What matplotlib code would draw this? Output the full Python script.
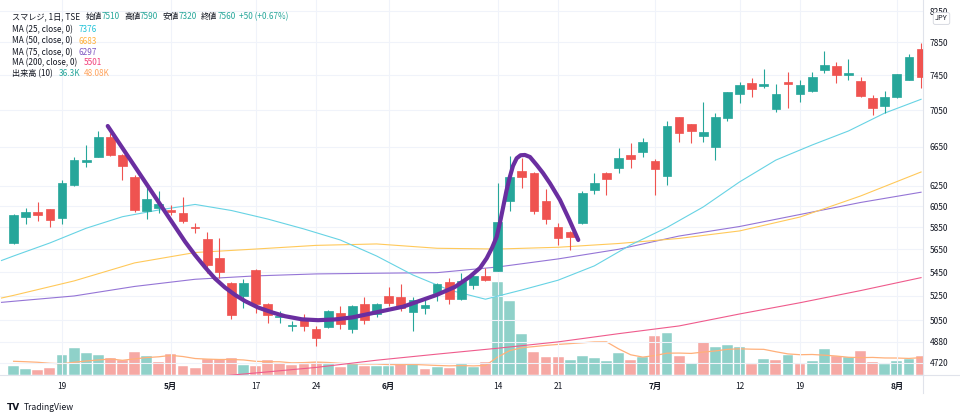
import numpy as np
import pandas as pd
import matplotlib
matplotlib.use('Agg')
import matplotlib.pyplot as plt
from matplotlib.lines import Line2D

plt.rcParams['font.family'] = ['Noto Sans CJK JP', 'DejaVu Sans']

# daily bars 2021-04-13 .. 2021-08-04 (trading days only)
opens = [5710, 5950, 5995, 6020, 5940, 6260, 6495, 6545, 6757, 6565,
         6340, 6005, 6030, 6010, 5990, 5850, 5740, 5570, 5360, 5245,
         5470, 5180, 5072, 5000, 5065, 4975, 4998, 5105, 4978, 5178,
         5095, 5250, 5240, 5118, 5150, 5270, 5368, 5220, 5340, 5420,
         5460, 6100, 6400, 6375, 6100, 5852, 5810, 5890, 6210, 6382,
         6427, 6565, 6598, 6500, 6348, 6970, 6890, 6765, 6650, 6965,
         7230, 7355, 7325, 7060, 7365, 7228, 7270, 7512, 7560, 7450,
         7388, 7190, 7095, 7195, 7396, 7765]
highs = [5975, 6030, 6090, 6025, 6310, 6540, 6670, 6820, 6800, 6575,
         6360, 6250, 6200, 6065, 6140, 5890, 5810, 5750, 5365, 5390,
         5475, 5185, 5125, 5045, 5100, 5000, 5135, 5165, 5170, 5235,
         5185, 5325, 5345, 5240, 5228, 5352, 5400, 5445, 5422, 5485,
         6280, 6555, 6530, 6385, 6215, 5890, 5815, 6200, 6380, 6390,
         6635, 6690, 6740, 6520, 6930, 6975, 6895, 7145, 7015, 7255,
         7375, 7415, 7530, 7345, 7490, 7390, 7490, 7745, 7612, 7645,
         7430, 7220, 7265, 7465, 7705, 7840]
lows = [5700, 5880, 5915, 5850, 5880, 6250, 6435, 6540, 6555, 6310,
        6000, 5930, 5985, 5965, 5895, 5795, 5440, 5395, 5055, 5150,
        5110, 5025, 5030, 4960, 4965, 4850, 4990, 4975, 4950, 5020,
        5075, 5160, 5125, 4960, 5097, 5208, 5178, 5215, 5303, 5370,
        5455, 6005, 6230, 5975, 5880, 5690, 5640, 5885, 6170, 6160,
        6382, 6433, 6546, 6160, 6260, 6705, 6687, 6705, 6510, 6925,
        7125, 7200, 7300, 7030, 7070, 7135, 7260, 7475, 7355, 7395,
        7200, 6995, 7015, 7190, 7390, 7300]
closes = [5968, 5995, 5970, 5920, 6275, 6510, 6515, 6757, 6565, 6445,
          6010, 6120, 6075, 5993, 5915, 5845, 5510, 5450, 5090, 5360,
          5180, 5090, 5080, 5008, 5005, 4910, 5125, 5020, 5168, 5050,
          5180, 5185, 5150, 5215, 5172, 5348, 5222, 5375, 5420, 5378,
          5900, 6335, 6340, 6005, 5930, 5750, 5760, 6178, 6281, 6320,
          6530, 6520, 6705, 6420, 6873, 6795, 6822, 6812, 6970, 7250,
          7335, 7285, 7345, 7228, 7345, 7335, 7425, 7572, 7450, 7474,
          7212, 7070, 7200, 7460, 7665, 7435]
# volume, thousand shares
volumes = [24.4, 16.0, 14.0, 19.6, 56.8, 75.6, 61.6, 55.2, 46.8, 42.0,
           63.6, 53.2, 35.6, 58.8, 24.4, 20.4, 44.8, 44.8, 47.6, 28.0,
           26.0, 42.0, 33.6, 28.8, 31.6, 36.4, 31.6, 21.6, 32.8, 24.4,
           26.0, 24.4, 33.6, 33.6, 17.6, 21.6, 20.4, 30.0, 23.2, 36.4,
           259.6, 206.4, 114.8, 65.2, 51.2, 49.6, 42.8, 53.2, 46.8, 39.2,
           62.4, 41.2, 49.6, 108.4, 117.6, 53.2, 32.8, 91.6, 77.6, 84.0,
           77.6, 30.8, 44.8, 41.2, 56.8, 30.8, 39.2, 72.0, 54.0, 49.6,
           67.2, 36.4, 30.0, 39.2, 45.6, 52.4]
# volume MA(10) for the first bars (needs earlier data)
vol_ma_head = [38.4, 37.2, 35.6, 32.8, 31.6, 35.6, 39.2, 42.0, 44.8]

# moving averages (bar index, value)
ma25_bars = [-1, 0, 3, 6, 9, 12, 15, 18, 21, 24, 27, 30, 33, 36, 39, 42, 45,
             48, 51, 54, 57, 60, 63, 66, 69, 72, 75]
ma25 = [5551, 5591, 5708, 5843, 5951, 6015, 6068, 6010, 5929, 5836, 5735,
        5591, 5425, 5297, 5220, 5297, 5380, 5504, 5690, 5850, 6044, 6289,
        6511, 6669, 6819, 7016, 7171]
ma_bars = [-1, 0, 5, 10, 15, 20, 25, 30, 35, 40, 45, 50, 55, 60, 65, 70, 75]
ma50 = [5230, 5252, 5374, 5530, 5622, 5653, 5686, 5699, 5660, 5653, 5669,
        5703, 5749, 5818, 5948, 6150, 6389]
ma75 = [5194, 5203, 5247, 5327, 5388, 5417, 5434, 5440, 5445, 5494, 5565,
        5651, 5771, 5859, 5972, 6087, 6187]
ma200_bars = [10, 15, 20, 25, 30, 35, 40, 45, 50, 55, 60, 65, 70, 75]
ma200 = [4562, 4604, 4643, 4684, 4738, 4784, 4829, 4878, 4942, 5003, 5099,
         5191, 5292, 5402]

# hand drawn cup shape (bar index, price)
cup_bars = [7.78, 14.17, 14.99, 15.82, 16.64, 17.47, 18.30, 19.12, 20.20,
            21.36, 22.43, 23.83, 25.16, 26.56, 27.97, 29.87, 32.21, 34.97,
            36.48, 37.72, 38.55, 39.10, 39.54, 39.93, 40.21, 40.47, 40.73,
            41.02, 41.27, 41.58, 41.90, 42.26, 42.68, 43.23, 43.75, 44.33,
            45.16, 45.90, 46.67]
cup_prices = [6873, 5720, 5600, 5492, 5395, 5318, 5256, 5205, 5152,
              5112, 5081, 5056, 5049, 5055, 5071, 5110, 5159, 5256,
              5323, 5411, 5486, 5571, 5663, 5765, 5902, 6047, 6199,
              6341, 6450, 6530, 6561, 6564, 6543, 6461, 6379, 6275,
              6111, 5929, 5735]

price_ticks = [4720, 4880, 5050, 5250, 5450, 5650, 5850, 6050, 6250, 6650,
               7050, 7450, 7850, 8250]
date_pos = [4, 13, 20, 25, 31, 40, 45, 53, 60, 65, 73]
date_labels = ['19', '5月', '17', '24', '6月', '14', '21', '7月', '12', '19', '8月']

UP = '#26a69a'
DOWN = '#ef5350'
TXT = '#131722'

W, H = 960, 418
fig = plt.figure(figsize=(W / 100, H / 100), dpi=100)
fig.patch.set_facecolor('white')
rect = [0, 1 - 375 / H, 922.5 / W, 375 / H]

idx = np.arange(len(closes))
o = np.array(opens)
c = np.array(closes)

# volume pane (behind)
axv = fig.add_axes(rect, zorder=0)
vcol = ['#8fd1c9'] + ['#8fd1c9' if c[i] >= c[i - 1] else '#f6a8a4'
                      for i in range(1, len(c))]
axv.bar(idx, volumes, width=0.9, color=vcol, edgecolor='white', linewidth=0.3)
vol_ma = pd.Series(volumes).rolling(10).mean().to_numpy()
vol_ma[:len(vol_ma_head)] = vol_ma_head
axv.plot(idx, vol_ma, color='#ffb07a', lw=0.9)
axv.set_xlim(-1.124, 75.12)
axv.set_ylim(0, 375 * 2.8)
axv.axis('off')

# price pane
ax = fig.add_axes(rect, zorder=1)
ax.patch.set_alpha(0)
ax.set_yscale('log')
ax.set_xlim(-1.124, 75.12)
ax.set_ylim(4628, 8396)

ax.plot(ma_bars, ma75, color='#9575d6', lw=0.8)
ax.plot(ma_bars, ma50, color='#ffc95a', lw=0.8)
ax.plot(ma25_bars, ma25, color='#67d3e4', lw=0.8)
ax.plot(ma200_bars, ma200, color='#ef5b8c', lw=0.8)

colors = [UP if c[i] >= o[i] else DOWN for i in idx]
ax.vlines(idx, lows, highs, colors=colors, lw=0.8, zorder=3)
ax.bar(idx, np.abs(c - o), bottom=np.minimum(o, c), width=0.72,
       color=colors, edgecolor=colors, linewidth=0.5, zorder=4)

ax.plot(cup_bars, cup_prices, color='#6a2ea0', lw=3.0,
        solid_capstyle='round', solid_joinstyle='round', zorder=5)

ax.set_yticks(price_ticks, labels=[str(t) for t in price_ticks])
ax.minorticks_off()
ax.yaxis.tick_right()
ax.set_xticks(date_pos, labels=date_labels)
for lab in ax.get_xticklabels():
    if '月' in lab.get_text():
        lab.set_fontweight('bold')
ax.tick_params(axis='both', length=0, labelsize=6, labelcolor=TXT)
ax.tick_params(axis='y', pad=5)
ax.tick_params(axis='x', pad=5)
ax.grid(True, color='#f0f3fa', lw=0.8)
ax.set_axisbelow(True)
for s in ['top', 'left']:
    ax.spines[s].set_visible(False)
for s in ['bottom', 'right']:
    ax.spines[s].set_color('#e0e3eb')
    ax.spines[s].set_linewidth(0.8)

fig.add_artist(Line2D([922.5 / W, 1], [1 - 375 / H] * 2, color='#e0e3eb', lw=0.8))
fig.add_artist(Line2D([922.5 / W] * 2, [1 - 393 / H, 1 - 375 / H], color='#e0e3eb', lw=0.8))


def ftext(x, y, s, color=TXT, **kw):
    fig.text(x / W, 1 - y / H, s, color=color, fontsize=5.9, va='center', **kw)


# legend block
ftext(11.7, 16.7, 'スマレジ, 1日, TSE')
for lx, lab, vx, val in [(86, '始値', 101.7, '7510'), (124.3, '高値', 140, '7590'),
                         (162.7, '安値', 178.3, '7320'), (201, '終値', 217.3, '7560')]:
    ftext(lx, 16.7, lab)
    ftext(vx, 16.7, val, color=UP)
ftext(239.3, 16.7, '+50 (+0.67%)', color=UP)
ftext(11.7, 29.3, 'MA (25, close, 0)')
ftext(78.3, 29.3, '7376', color='#22c3d8')
ftext(11.7, 41.0, 'MA (50, close, 0)')
ftext(78.3, 41.0, '6683', color='#ffb13b')
ftext(11.7, 52.3, 'MA (75, close, 0)')
ftext(78.3, 52.3, '6297', color='#7e57c2')
ftext(11.7, 62.7, 'MA (200, close, 0)')
ftext(83.3, 62.7, '5501', color='#f23f7a')
ftext(11.7, 73.3, '出来高 (10)')
ftext(58.7, 73.3, '36.3K', color=UP)
ftext(84, 73.3, '48.08K', color='#ffa35c')

fig.text(941.5 / W, 1 - 18.5 / H, 'JPY', color=TXT, fontsize=5.4, ha='center',
         va='center', bbox=dict(boxstyle='round,pad=0.25', fc='white',
                                ec='#d1d4dc', lw=0.6))

# TradingView mark
fig.text(7 / W, 1 - 407 / H, 'TV', color=TXT, fontsize=6.5, fontweight='bold',
         va='center', family='DejaVu Sans')
fig.text(24 / W, 1 - 407 / H, 'TradingView', color=TXT, fontsize=6.2, va='center')

fig.savefig('out.png', dpi=100, facecolor='white')
